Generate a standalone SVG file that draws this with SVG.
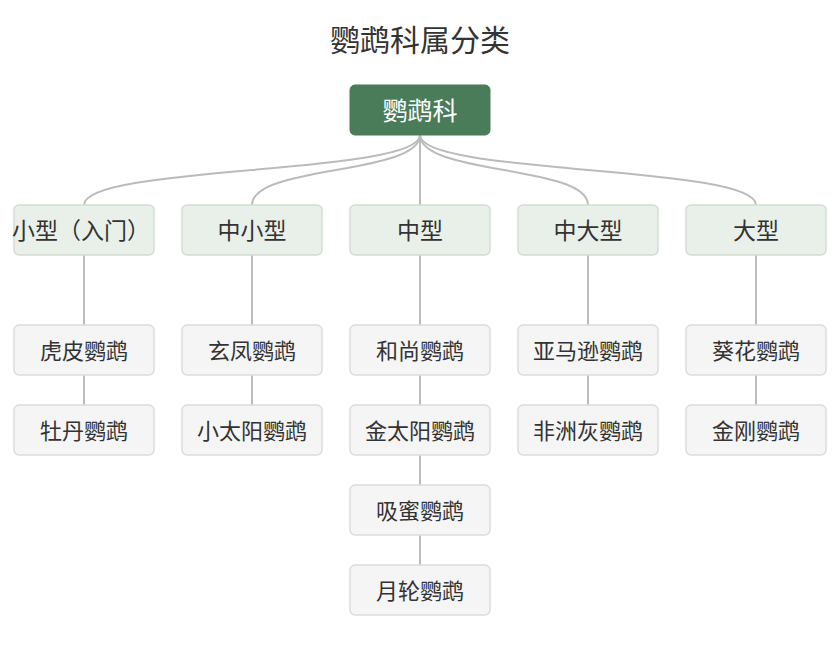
<svg xmlns="http://www.w3.org/2000/svg" width="840" height="655" viewBox="0 0 840 655">
<style>
text{font-family:"Noto Sans CJK SC","Noto Sans",sans-serif;text-anchor:middle;dominant-baseline:central;fill:#333}
.title{font-size:30px}
.root rect{fill:#4a7c59;stroke:#4a7c59}
.root text{fill:#fff;font-size:25px}
.cat rect{fill:#e9f0e9;stroke:#d4dcd4;stroke-width:1.5}
.cat text{font-size:23px}
.leaf rect{fill:#f5f5f5;stroke:#dcdcdc;stroke-width:1.5}
.leaf text{font-size:22px}
.conn path{fill:none;stroke:#bbb;stroke-width:2}
</style>
<rect width="840" height="655" fill="#fff"/>
<text class="title" x="420" y="38">鹦鹉科属分类</text>
<g class="conn">
<path d="M420,135 C420,175 84,165 84,205"/>
<path d="M420,135 C420,175 252,165 252,205"/>
<path d="M420,135 L420,205"/>
<path d="M420,135 C420,175 588,165 588,205"/>
<path d="M420,135 C420,175 756,165 756,205"/>
<path d="M84,255V325M84,375V405"/>
<path d="M252,255V325M252,375V405"/>
<path d="M420,255V325M420,375V405M420,455V485M420,535V565"/>
<path d="M588,255V325M588,375V405"/>
<path d="M756,255V325M756,375V405"/>
</g>
<g id="root" class="root"><rect x="350" y="85" width="140" height="50" rx="5"/><text x="420" y="109">鹦鹉科</text></g>
<g id="cat1" class="cat"><rect x="14" y="205" width="140" height="50" rx="5"/><text x="81" y="229">小型（入门）</text></g>
<g id="cat2" class="cat"><rect x="182" y="205" width="140" height="50" rx="5"/><text x="252" y="229">中小型</text></g>
<g id="cat3" class="cat"><rect x="350" y="205" width="140" height="50" rx="5"/><text x="420" y="229">中型</text></g>
<g id="cat4" class="cat"><rect x="518" y="205" width="140" height="50" rx="5"/><text x="588" y="229">中大型</text></g>
<g id="cat5" class="cat"><rect x="686" y="205" width="140" height="50" rx="5"/><text x="756" y="229">大型</text></g>
<g id="l11" class="leaf"><rect x="14" y="325" width="140" height="50" rx="5"/><text x="84" y="349">虎皮鹦鹉</text></g>
<g id="l12" class="leaf"><rect x="14" y="405" width="140" height="50" rx="5"/><text x="84" y="429">牡丹鹦鹉</text></g>
<g id="l21" class="leaf"><rect x="182" y="325" width="140" height="50" rx="5"/><text x="252" y="349">玄凤鹦鹉</text></g>
<g id="l22" class="leaf"><rect x="182" y="405" width="140" height="50" rx="5"/><text x="252" y="429">小太阳鹦鹉</text></g>
<g id="l31" class="leaf"><rect x="350" y="325" width="140" height="50" rx="5"/><text x="420" y="349">和尚鹦鹉</text></g>
<g id="l32" class="leaf"><rect x="350" y="405" width="140" height="50" rx="5"/><text x="420" y="429">金太阳鹦鹉</text></g>
<g id="l33" class="leaf"><rect x="350" y="485" width="140" height="50" rx="5"/><text x="420" y="509">吸蜜鹦鹉</text></g>
<g id="l34" class="leaf"><rect x="350" y="565" width="140" height="50" rx="5"/><text x="420" y="589">月轮鹦鹉</text></g>
<g id="l41" class="leaf"><rect x="518" y="325" width="140" height="50" rx="5"/><text x="588" y="349">亚马逊鹦鹉</text></g>
<g id="l42" class="leaf"><rect x="518" y="405" width="140" height="50" rx="5"/><text x="588" y="429">非洲灰鹦鹉</text></g>
<g id="l51" class="leaf"><rect x="686" y="325" width="140" height="50" rx="5"/><text x="756" y="349">葵花鹦鹉</text></g>
<g id="l52" class="leaf"><rect x="686" y="405" width="140" height="50" rx="5"/><text x="756" y="429">金刚鹦鹉</text></g>
</svg>
